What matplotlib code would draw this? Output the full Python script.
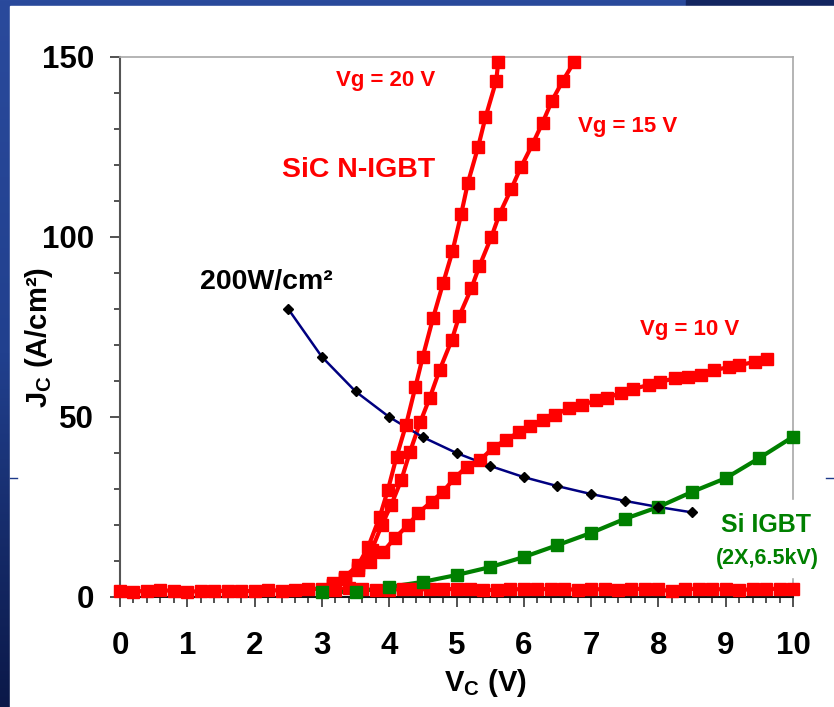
import numpy as np
import matplotlib
matplotlib.use("Agg")
import matplotlib.pyplot as plt
from matplotlib.colors import LinearSegmentedColormap
from matplotlib.patches import Rectangle
from matplotlib.ticker import MultipleLocator

plt.rcParams.update({
    "font.family": "Liberation Sans", "font.weight": "bold",
    "mathtext.fontset": "custom", "mathtext.rm": "Liberation Sans:bold",
    "mathtext.bf": "Liberation Sans:bold", "mathtext.it": "Liberation Sans:bold",
})

RED, GREEN, NAVY = "#ff0000", "#008000", "#000080"

# ── data (V_C in V, J_C in A/cm2) ─────────────────────────────────────────────
off_v = [round(0.2 * i, 1) for i in range(51)]
off_j = [1.6, 1.4, 1.8, 1.9, 1.7, 1.5, 1.6, 1.8, 1.6, 1.7, 1.6, 1.9, 1.8, 2.0,
         2.2, 2.3, 2.0, 2.4, 2.1, 1.9, 2.0, 2.2, 2.1, 2.2, 2.1, 2.3, 2.2, 2.0,
         1.9, 2.1, 2.2, 2.1, 2.3, 2.2, 2.0, 2.1, 2.2, 2.0, 2.2, 2.3, 2.1, 1.6,
         2.2, 2.3, 2.1, 2.2, 2.0, 2.1, 2.2, 2.3, 2.2]

vg20_v = [3.17, 3.34, 3.54, 3.69, 3.86, 3.98, 4.11, 4.25, 4.39, 4.50, 4.65,
          4.80, 4.94, 5.07, 5.17, 5.32, 5.43, 5.59, 5.62]
vg20_j = [3.8, 5.6, 8.9, 14.0, 22.3, 29.7, 39.0, 47.8, 58.4, 66.8, 77.4,
          87.1, 96.0, 106.4, 115.1, 124.9, 133.2, 143.4, 148.5]

vg15_v = [3.17, 3.34, 3.54, 3.74, 3.89, 4.03, 4.18, 4.31, 4.46, 4.60, 4.75,
          4.93, 5.04, 5.22, 5.34, 5.52, 5.64, 5.81, 5.96, 6.13, 6.28, 6.42,
          6.58, 6.75]
vg15_j = [3.3, 5.0, 8.0, 13.1, 20.0, 25.6, 32.5, 40.4, 48.5, 55.2, 63.1,
          71.4, 78.0, 85.7, 91.9, 100.1, 106.4, 113.2, 119.5, 125.8, 131.8,
          137.9, 143.4, 148.7]

vg10_v = [3.17, 3.34, 3.54, 3.71, 3.91, 4.08, 4.28, 4.43, 4.63, 4.80, 4.97,
          5.15, 5.35, 5.54, 5.73, 5.93, 6.09, 6.28, 6.47, 6.67, 6.87, 7.08,
          7.23, 7.45, 7.62, 7.86, 8.02, 8.25, 8.44, 8.64, 8.83, 9.05, 9.20,
          9.43, 9.62]
vg10_j = [3.3, 5.3, 7.5, 9.8, 12.6, 16.3, 20.0, 23.3, 26.5, 29.3, 33.0,
          36.2, 38.0, 41.4, 43.6, 45.8, 47.5, 49.2, 50.6, 52.5, 53.3, 54.7,
          55.3, 56.7, 57.8, 58.9, 59.7, 60.8, 61.1, 61.7, 63.0, 63.9, 64.4,
          65.3, 66.1]

si_v = [3.0, 3.5, 4.0, 4.5, 5.0, 5.5, 6.0, 6.5, 7.0, 7.5, 8.0, 8.5, 9.0,
        9.5, 10.0]
si_j = [1.4, 1.4, 2.8, 4.2, 6.1, 8.3, 11.1, 14.4, 17.8, 21.7, 25.0, 29.2,
        33.0, 38.6, 44.5]

pw_v = [2.5, 3.0, 3.5, 4.0, 4.5, 5.0, 5.5, 6.0, 6.5, 7.0, 7.5, 8.0, 8.5]
pw_j = [80.0, 66.7, 57.1, 50.0, 44.4, 40.0, 36.4, 33.3, 30.8, 28.6, 26.7,
        25.0, 23.5]

W, H = 834, 707
fig = plt.figure(figsize=(W / 100, H / 100), dpi=100)

# slide background: blue border, white card
bg = fig.add_axes([0, 0, 1, 1], zorder=-5)
bg.set_axis_off()
slide = LinearSegmentedColormap.from_list("slide", ["#2a4a9c", "#21408e", "#0b1848"])
bg.imshow(np.linspace(0, 1, 256)[:, None], cmap=slide, aspect="auto",
          extent=[0, 1, 0, 1])
bg.add_patch(Rectangle((686 / W, 1 - 8 / H), 1, 8 / H, color="#132560"))
bg.add_patch(Rectangle((10 / W, 0), 1, 1 - 6 / H, color="white"))
bg.plot([10 / W, 17 / W], [1 - 478 / H] * 2, color="#1e3a8a", lw=1)
bg.plot([826 / W, 1], [1 - 478 / H] * 2, color="#1e3a8a", lw=1)
bg.set_xlim(0, 1)
bg.set_ylim(0, 1)

ax = fig.add_axes([120 / W, 110 / H, 673 / W, 540 / H])
ax.set_facecolor("none")

red_series = [(off_v, off_j), (vg10_v, vg10_j), (vg15_v, vg15_j), (vg20_v, vg20_j)]
# lines first, markers on top (as the spreadsheet draws them)
for v, j in red_series:
    ax.plot(v, j, color=RED, lw=3, zorder=3, clip_on=False)
ax.plot(si_v, si_j, color=GREEN, lw=3, zorder=3, clip_on=False)
ax.plot(pw_v, pw_j, color=NAVY, lw=1.8, zorder=3, clip_on=False)
for v, j in red_series:
    ax.plot(v, j, ls="none", marker="s", ms=9, color=RED, zorder=4,
            clip_on=False)
ax.plot(si_v, si_j, ls="none", marker="s", ms=9, color=GREEN, zorder=4,
        clip_on=False)
ax.plot(pw_v, pw_j, ls="none", marker="D", ms=5.5, color="black", zorder=5,
        clip_on=False)

ax.set_xlim(0, 10)
ax.set_ylim(0, 150)
ax.xaxis.set_major_locator(MultipleLocator(1))
ax.xaxis.set_minor_locator(MultipleLocator(0.2))
ax.yaxis.set_major_locator(MultipleLocator(50))
ax.yaxis.set_minor_locator(MultipleLocator(10))
ax.tick_params(which="both", direction="out", width=1.2, color="#333333")
ax.tick_params(which="major", length=7.5, labelsize=22.5)
ax.tick_params(which="minor", length=4.5)
ax.tick_params(axis="x", which="major", pad=17)
ax.tick_params(axis="y", which="major", pad=11)
for lab in ax.get_xticklabels() + ax.get_yticklabels():
    lab.set_fontweight("bold")

ax.spines["left"].set_color("#555555")
ax.spines["bottom"].set_color("#111111")
for s in ("left", "bottom"):
    ax.spines[s].set_linewidth(1.5)
for s in ("top", "right"):
    ax.spines[s].set_color("#a8a8a8")
    ax.spines[s].set_linewidth(1.2)

# white label box over the right frame
ax.add_patch(Rectangle((9.75, 5.6), 0.6, 21.3, color="white", zorder=6,
                       clip_on=False))

ax.text(3.95, 143.6, "Vg = 20 V", color=RED, fontsize=16, ha="center",
        va="center", zorder=7)
ax.text(3.55, 118.6, "SiC N-IGBT", color=RED, fontsize=20.5, ha="center",
        va="center", zorder=7)
ax.text(7.55, 130.6, "Vg = 15 V", color=RED, fontsize=16, ha="center",
        va="center", zorder=7)
ax.text(8.47, 74.2, "Vg = 10 V", color=RED, fontsize=16, ha="center",
        va="center", zorder=7)
ax.text(2.17, 87.5, "200W/cm²", color="black", fontsize=20.5, ha="center",
        va="center", zorder=7)
ax.text(9.6, 20.0, "Si IGBT", color=GREEN, fontsize=18, ha="center",
        va="center", zorder=7, clip_on=False)
ax.text(9.62, 10.8, "(2X,6.5kV)", color=GREEN, fontsize=15.5, ha="center",
        va="center", zorder=7, clip_on=False)

fig.text(485 / W, 1 - 691 / H, r"V$_\mathbf{C}$ (V)", fontsize=21,
         ha="center", va="baseline")
fig.text(55 / W, 1 - 338 / H, r"J$_\mathbf{C}$ (A/cm²)", fontsize=21,
         ha="right", va="center", rotation=90)

fig.savefig("out.png", dpi=100)
